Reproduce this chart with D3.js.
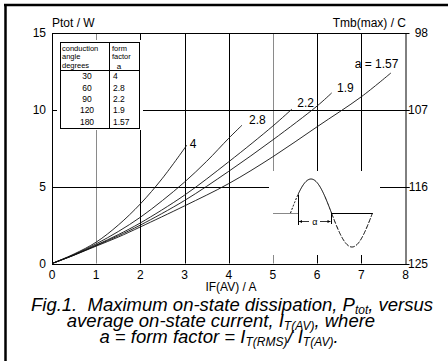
<!DOCTYPE html>
<html><head><meta charset="utf-8">
<script src="https://cdnjs.cloudflare.com/ajax/libs/d3/7.8.5/d3.min.js"></script>
<style>
body{margin:0;background:#fff;}
svg{display:block;font-family:"Liberation Sans",Arial,sans-serif;}
</style></head>
<body><svg id="c" width="448" height="361"></svg>
<script>
// ---- data ----
const xTicks = [0,1,2,3,4,5,6,7,8];
const yLeftTicks = [0,5,10,15];
const yRightTicks = [125,116,107,98];
const tableAngles = [30,60,90,120,180];
const tableFactors = ["4","2.8","2.2","1.9","1.57"];

const curveNames = ["4","2.8","2.2","1.9","a = 1.57"];
const iF_a4   = [0,0.5,1,1.5,2,2.5,3.05];
const p_a4    = [0,0.62,1.39,2.5,3.88,5.55,7.7];
const iF_a28  = [0,0.5,1,1.5,2,2.5,3,3.5,4,4.3];
const p_a28   = [0,0.58,1.28,2.08,3.01,4.1,5.3,6.65,8.15,9.0];
const iF_a22  = [0,0.5,1,1.5,2,3,4,5,5.43];
const p_a22   = [0,0.56,1.2,1.88,2.64,4.45,6.62,8.95,10.05];
const iF_a19  = [0,0.5,1,1.5,2,3,4,5,6,6.33];
const p_a19   = [0,0.55,1.17,1.8,2.5,4.1,6.0,8.05,10.25,11.1];
const iF_a157 = [0,0.5,1,1.5,2,3,4,5,6,7,7.67];
const p_a157  = [0,0.54,1.13,1.72,2.38,3.75,5.2,6.95,8.9,10.85,12.4];

const svg = d3.select("#c");
const x = d3.scaleLinear([0,8],[52,405.5]);
const y = d3.scaleLinear([0,15],[263.5,33]);
const yR = d3.scaleLinear([125,98],[263.5,33]);

// outer frame (top + left)
svg.append("line").attr("x1",4).attr("x2",448).attr("y1",5).attr("y2",5).attr("stroke","#000").attr("stroke-width",2.5);
svg.append("line").attr("x1",5.5).attr("x2",5.5).attr("y1",4).attr("y2",361).attr("stroke","#000").attr("stroke-width",2.5);

const g = svg.append("g");
// gridlines
const grayX = [1,5];
g.selectAll(".vg").data([1,2,3,4,5,6,7]).join("line")
  .attr("x1",d=>Math.round(x(d))+0.5).attr("x2",d=>Math.round(x(d))+0.5)
  .attr("y1",y(15)).attr("y2",y(0))
  .attr("stroke",d=>grayX.includes(d)?"#8a8a8a":"#000").attr("stroke-width",1);
g.selectAll(".hg").data([5,10]).join("line")
  .attr("x1",x(0)).attr("x2",x(8)+4)
  .attr("y1",d=>Math.round(y(d))+0.5).attr("y2",d=>Math.round(y(d))+0.5)
  .attr("stroke","#000").attr("stroke-width",1);
// right axis outward ticks
g.selectAll(".rt").data(yRightTicks).join("line")
  .attr("x1",x(8)).attr("x2",x(8)+4)
  .attr("y1",d=>Math.round(yR(d))+0.5).attr("y2",d=>Math.round(yR(d))+0.5)
  .attr("stroke","#000");

// white blanks for table and inset
g.append("rect").attr("x",57).attr("y",40).attr("width",86).attr("height",90).attr("fill","#fff");
g.append("rect").attr("x",269).attr("y",171).attr("width",111).attr("height",84).attr("fill","#fff");

// plot frame
g.append("rect").attr("x",x(0)+0.5).attr("y",Math.round(y(15))+0.5)
  .attr("width",x(8)-x(0)).attr("height",Math.round(y(0))-Math.round(y(15)))
  .attr("fill","none").attr("stroke","#000").attr("stroke-width",1);

// curves
const series = [[iF_a4,p_a4],[iF_a28,p_a28],[iF_a22,p_a22],[iF_a19,p_a19],[iF_a157,p_a157]];
const line = d3.line().x(d=>x(d[0])).y(d=>y(d[1])).curve(d3.curveCatmullRom);
series.forEach(([xs,ps])=>{
  g.append("path").attr("d",line(xs.map((v,i)=>[v,ps[i]])))
   .attr("fill","none").attr("stroke","#111").attr("stroke-width",0.9);
});
// curve labels
const labelPos = [[3.12,7.8],[4.46,9.35],[5.55,10.45],[6.45,11.45],[6.85,13.0]];
g.selectAll(".cl").data(curveNames).join("text")
  .attr("x",(d,i)=>x(labelPos[i][0])).attr("y",(d,i)=>y(labelPos[i][1]))
  .attr("font-size",12).attr("dy","0.35em").text(d=>d);

// axis tick labels
g.selectAll(".xt").data(xTicks).join("text")
  .attr("x",d=>x(d)).attr("y",279).attr("text-anchor","middle").attr("font-size",12).text(d=>d);
g.selectAll(".yt").data(yLeftTicks).join("text")
  .attr("x",46).attr("y",d=>y(d)).attr("dy","0.35em").attr("text-anchor","end").attr("font-size",12).text(d=>d);
g.selectAll(".yr").data(yRightTicks).join("text")
  .attr("x",428).attr("y",d=>yR(d)).attr("dy","0.35em").attr("text-anchor","end").attr("font-size",12).text(d=>d);

// axis titles
svg.append("text").attr("x",52).attr("y",27).attr("font-size",12).text("Ptot / W");
svg.append("text").attr("x",406).attr("y",27).attr("font-size",12).attr("text-anchor","end").text("Tmb(max) / C");
svg.append("text").attr("x",231).attr("y",291).attr("font-size",12).attr("text-anchor","middle").text("IF(AV) / A");

// table
const t = svg.append("g");
t.append("rect").attr("x",60.5).attr("y",42.5).attr("width",79).attr("height",86).attr("fill","#fff").attr("stroke","#000");
t.append("line").attr("x1",109.5).attr("x2",109.5).attr("y1",42.5).attr("y2",128.5).attr("stroke","#000");
t.append("line").attr("x1",60.5).attr("x2",139.5).attr("y1",70.5).attr("y2",70.5).attr("stroke","#000");
const h1 = ["conduction","angle","degrees"], h2 = ["form","factor"];
h1.forEach((s,i)=>t.append("text").attr("x",62).attr("y",51+i*8.3).attr("font-size",7.5).text(s));
h2.forEach((s,i)=>t.append("text").attr("x",112).attr("y",51+i*8.3).attr("font-size",7.5).text(s));
t.append("text").attr("x",119).attr("y",68.5).attr("font-size",8).attr("text-anchor","middle").text("a");
const rowY = [76,88,99,110,122.5];
t.selectAll(".ta").data(tableAngles).join("text").attr("x",87).attr("y",(d,i)=>rowY[i]).attr("dy","0.35em")
  .attr("text-anchor","middle").attr("font-size",8.5).text(d=>d);
t.selectAll(".tf").data(tableFactors).join("text").attr("x",113).attr("y",(d,i)=>rowY[i]).attr("dy","0.35em")
  .attr("font-size",8.5).text(d=>d);

// inset waveform (illustration)
const ins = svg.append("g");
const b0 = 213, z0 = 290.5, per = 82, amp = 34, xa = 298, xz = z0+per/2;
const sw = (a,bnd)=>d3.range(a,bnd+0.01,0.5).map(px=>[px, b0 - amp*Math.sin((px-z0)/per*2*Math.PI)]);
const pl = d3.line();
ins.append("line").attr("x1",273).attr("x2",xa).attr("y1",b0+0.5).attr("y2",b0+0.5).attr("stroke","#888");
ins.append("line").attr("x1",xz).attr("x2",z0+per).attr("y1",b0+0.5).attr("y2",b0+0.5).attr("stroke","#000");
ins.append("path").attr("d",pl(sw(z0,xa))).attr("fill","none").attr("stroke","#000").attr("stroke-dasharray","2,1.5");
ins.append("path").attr("d",pl(sw(xa,xz))).attr("fill","none").attr("stroke","#000");
ins.append("path").attr("d",pl(sw(xz,z0+per))).attr("fill","none").attr("stroke","#000").attr("stroke-dasharray","5,1.5");
ins.append("line").attr("x1",xa+0.5).attr("x2",xa+0.5).attr("y1",b0-amp*Math.sin((xa-z0)/per*2*Math.PI)).attr("y2",b0+12).attr("stroke","#000");
ins.append("line").attr("x1",xz).attr("x2",xz).attr("y1",b0).attr("y2",b0+11).attr("stroke","#000");
ins.append("line").attr("x1",xa+1).attr("x2",xz-1).attr("y1",b0+8.5).attr("y2",b0+8.5).attr("stroke","#000").attr("stroke-width",0.8);
ins.append("path").attr("d",`M${xa+1},${b0+8.5}l3,-1.5v3z M${xz-1},${b0+8.5}l-3,-1.5v3z`).attr("fill","#000");
ins.append("rect").attr("x",xa+11).attr("y",b0+5).attr("width",11).attr("height",7).attr("fill","#fff");
ins.append("text").attr("x",(xa+xz)/2).attr("y",b0+11.5).attr("text-anchor","middle").attr("font-size",9).text("α");

// caption
const cap = svg.append("g").attr("font-style","italic").attr("font-size",18.5).attr("text-anchor","middle");
const c1 = cap.append("text").attr("x",232).attr("y",311);
c1.append("tspan").text("Fig.1.\u00a0 Maximum on-state dissipation, P");
c1.append("tspan").attr("font-size",12).attr("dy",3).text("tot");
c1.append("tspan").attr("dy",-3).text(", versus");
const c2 = cap.append("text").attr("x",221).attr("y",327);
c2.append("tspan").text("average on-state current, I");
c2.append("tspan").attr("font-size",12).attr("dy",3).text("T(AV)");
c2.append("tspan").attr("dy",-3).text(", where");
const c3 = cap.append("text").attr("x",219).attr("y",343);
c3.append("tspan").text("a = form factor = I");
c3.append("tspan").attr("font-size",12).attr("dy",3).text("T(RMS)");
c3.append("tspan").attr("dy",-3).text("/ I");
c3.append("tspan").attr("font-size",12).attr("dy",3).text("T(AV)");
c3.append("tspan").attr("dy",-3).text(".");
</script></body></html>
